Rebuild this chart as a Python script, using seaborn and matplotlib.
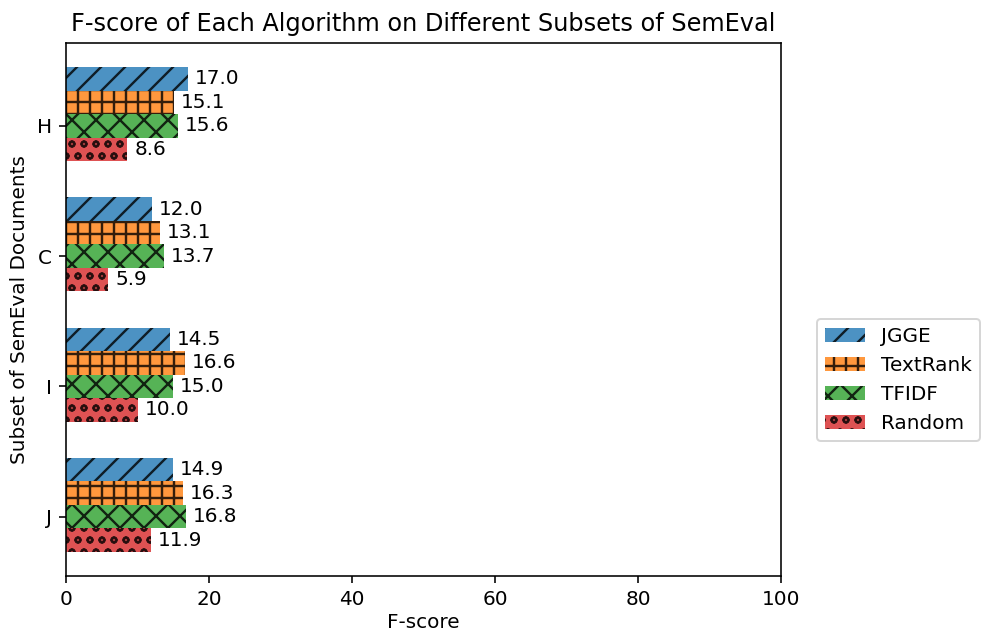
import numpy as np
import pandas as pd
import matplotlib
matplotlib.use("Agg")
import matplotlib.pyplot as plt
import seaborn as sns

# ---- data ----
categories = ["H", "C", "I", "J"]
algorithms = ["JGGE", "TextRank", "TFIDF", "Random"]
jgge = [17.0, 12.0, 14.5, 14.9]
textrank = [15.1, 13.1, 16.6, 16.3]
tfidf = [15.6, 13.7, 15.0, 16.8]
random_ = [8.6, 5.9, 10.0, 11.9]
x_ticks = [0, 20, 40, 60, 80, 100]

series = [jgge, textrank, tfidf, random_]
df = pd.DataFrame({
    "subset": categories * len(algorithms),
    "score": sum(series, []),
    "algorithm": [a for a in algorithms for _ in categories],
})

colors = ["#1f77b4", "#ff7f0e", "#2ca02c", "#d62728"]
hatches = ["//", "++", "xx", "oo"]
plt.rcParams["hatch.linewidth"] = 1.2

fig = plt.figure(figsize=(985 / 144, 634 / 144), dpi=144)
ax = fig.add_axes([66 / 985, 1 - 576 / 634, (781 - 66) / 985, (576 - 43) / 634])

bar_w = 0.72
sns.barplot(data=df, y="subset", x="score", hue="algorithm",
            order=categories, hue_order=algorithms, palette=colors,
            saturation=1, alpha=0.8, orient="h", width=bar_w,
            edgecolor="black", linewidth=0, errorbar=None,
            legend=False, ax=ax)

for cont, h in zip(ax.containers, hatches):
    for p in cont:
        p.set_hatch(h)
    ax.bar_label(cont, fmt="%.1f", padding=3.5, fontsize=10)

n = len(categories)
step = bar_w / len(algorithms)
ax.set_yticks(np.arange(n) + step / 2, categories)
span = (n - 1) + bar_w
ax.set_ylim(n - 1 + bar_w / 2 + 0.05 * span, -bar_w / 2 - 0.05 * span)

ax.set_xlim(0, 100)
ax.set_xticks(x_ticks)
ax.set_xlabel("F-score", fontsize=10, labelpad=2)
ax.set_ylabel("Subset of SemEval Documents", fontsize=10)
ax.set_title("F-score of Each Algorithm on Different Subsets of SemEval", fontsize=12)
ax.tick_params(labelsize=10)

ax.legend(ax.containers, algorithms, loc="center left",
          bbox_to_anchor=(1.037, 0.368), fontsize=10)

fig.savefig("out.png", dpi=144)
